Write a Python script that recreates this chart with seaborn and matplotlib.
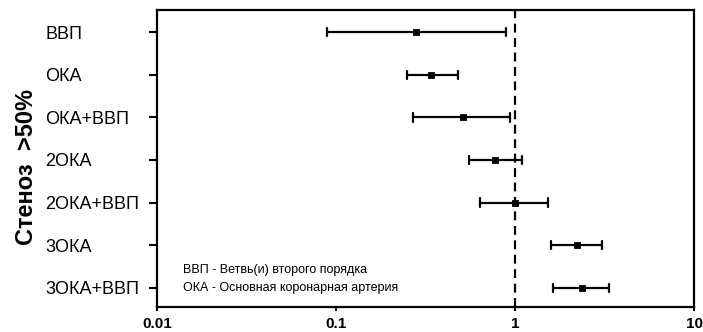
import seaborn as sns
import matplotlib.pyplot as plt
import pandas as pd

groups = ['ВВП', 'ОКА', 'ОКА+ВВП', '2ОКА', '2ОКА+ВВП', '3ОКА', '3ОКА+ВВП']
odds = [0.28, 0.34, 0.51, 0.77, 1.00, 2.21, 2.36]
ci_low = [0.089, 0.25, 0.27, 0.55, 0.64, 1.58, 1.64]
ci_high = [0.89, 0.48, 0.94, 1.09, 1.52, 3.07, 3.35]
x_ticks = [0.01, 0.1, 1, 10]
x_ticklabels = ['0.01', '0.1', '1', '10']
note_lines = ['ВВП - Ветвь(и) второго порядка', 'ОКА - Основная коронарная артерия']

# long form: low / estimate / high per group -> median + full range
rows = []
for g, lo, m, hi in zip(groups, ci_low, odds, ci_high):
    for v in (lo, m, hi):
        rows.append({'group': g, 'value': v})
df = pd.DataFrame(rows)

sns.set_style('white')
plt.rcParams['font.family'] = ['Liberation Sans', 'DejaVu Sans']
plt.rcParams.update({'text.color': 'black', 'axes.labelcolor': 'black',
                     'xtick.color': 'black', 'ytick.color': 'black'})

fig = plt.figure(figsize=(7.03, 3.32), dpi=100)
ax = fig.add_axes([0.2233, 0.0753, 0.7639, 0.8946])
ax.set_xscale('log')

sns.pointplot(data=df, x='value', y='group', order=groups,
              estimator='median', errorbar=('pi', 100),
              linestyle='none', marker='s', markersize=3.5,
              color='black', capsize=0.2, err_kws={'linewidth': 1.6},
              ax=ax)

ax.axvline(1, color='black', linestyle=(0, (4, 2.5)), linewidth=1.6)

ax.set_xlim(0.01, 10)
ax.set_ylim(6.45, -0.52)
ax.set_xticks(x_ticks)
ax.set_xticklabels(x_ticklabels, fontweight='bold', fontsize=11)
ax.minorticks_off()
ax.set_xlabel('')
ax.set_ylabel('Стеноз  >50%', fontsize=17, fontweight='bold')
ax.yaxis.set_label_coords(-0.222, 0.47)

ax.tick_params(axis='y', left=True, length=6, width=1.5, pad=74.5, labelsize=13)
ax.tick_params(axis='x', bottom=True, length=3, width=1.5, pad=4)
for lbl in ax.get_yticklabels():
    lbl.set_horizontalalignment('left')

for s in ax.spines.values():
    s.set_linewidth(1.6)
    s.set_color('black')

ax.text(0.048, 0.125, note_lines[0], transform=ax.transAxes, fontsize=9, va='center')
ax.text(0.048, 0.065, note_lines[1], transform=ax.transAxes, fontsize=9, va='center')

fig.savefig('out.png', dpi=100)
